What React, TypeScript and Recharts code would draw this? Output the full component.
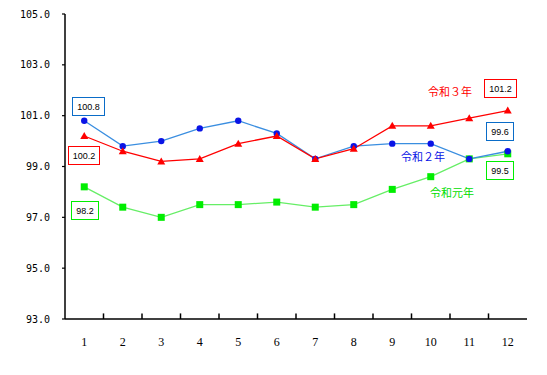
import React from 'react';
import {
  LineChart, Line, XAxis, YAxis, ReferenceLine,
} from 'recharts';

const months = [1, 2, 3, 4, 5, 6, 7, 8, 9, 10, 11, 12];
const reiwa3 = [100.2, 99.6, 99.2, 99.3, 99.9, 100.2, 99.3, 99.7, 100.6, 100.6, 100.9, 101.2];
const reiwa2 = [100.8, 99.8, 100.0, 100.5, 100.8, 100.3, 99.3, 99.8, 99.9, 99.9, 99.3, 99.6];
const reiwa1 = [98.2, 97.4, 97.0, 97.5, 97.5, 97.6, 97.4, 97.5, 98.1, 98.6, 99.3, 99.5];
const yTicks = [93, 95, 97, 99, 101, 103, 105];
const seriesNames = ['令和３年', '令和２年', '令和元年'];

const COLORS = {
  RED: '#ff0000',
  BLUE_LINE: '#3a8ee0',
  BLUE_DOT: '#0a14e6',
  BLUE_BOX: '#0a6cc8',
  GREEN_LINE: '#66ee66',
  GREEN_DOT: '#00ee00',
  GREEN_TEXT: '#00dd00',
};

const data = months.map((m, i) => ({ m, r3: reiwa3[i], r2: reiwa2[i], r1: reiwa1[i] }));
// 月の間の目盛り（内向き）
const betweenTicks = months.slice(1).map((m) => m - 0.5);
const Y_MIN = yTicks[0];
const Y_MAX = yTicks[yTicks.length - 1];
const TICK_LEN = 0.22; // 軸単位で約5〜6px

const Triangle = (props: any) => {
  const { cx, cy } = props;
  if (cx == null || cy == null) return null;
  return <path d={`M${cx},${cy - 4}L${cx + 4},${cy + 3}L${cx - 4},${cy + 3}Z`} fill={COLORS.RED} />;
};
const Square = (props: any) => {
  const { cx, cy } = props;
  if (cx == null || cy == null) return null;
  return <rect x={cx - 3.5} y={cy - 3.5} width={7} height={7} fill={COLORS.GREEN_DOT} />;
};
const Circle = (props: any) => {
  const { cx, cy } = props;
  if (cx == null || cy == null) return null;
  return <circle cx={cx} cy={cy} r={3.2} fill={COLORS.BLUE_DOT} />;
};

// 値ラベル（枠付き）
const ValueBox = ({ left, top, w, color, value }: { left: number; top: number; w: number; color: string; value: number }) => (
  <div style={{
    position: 'absolute', left, top, width: w, height: 19, border: `1px solid ${color}`,
    boxSizing: 'border-box', background: '#fff', fontFamily: '"Liberation Sans", Arial, sans-serif',
    fontSize: 9, color: '#000', display: 'flex', alignItems: 'center', justifyContent: 'center',
  }}>{value.toFixed(1)}</div>
);

const SeriesLabel = ({ left, top, color, text }: { left: number; top: number; color: string; text: string }) => (
  <div style={{
    position: 'absolute', left, top, fontFamily: '"Noto Sans CJK JP", sans-serif', fontSize: 11,
    color, lineHeight: '12px', whiteSpace: 'nowrap',
  }}>{text}</div>
);

export default function App() {
  return (
    <div style={{ position: 'absolute', left: 0, top: 0, width: 547, height: 375, background: '#fff' }}>
      <LineChart width={547} height={375} data={data} margin={{ top: 14, right: 20, left: 0, bottom: 0 }}>
        <XAxis
          dataKey="m"
          type="number"
          domain={[0.5, 12.5]}
          ticks={months}
          interval={0}
          allowDataOverflow
          height={56}
          tickLine={false}
          tickSize={0}
          tickMargin={18}
          axisLine={{ stroke: '#000', strokeWidth: 1.5 }}
          tick={{ fontSize: 12, fill: '#000', fontFamily: '"Liberation Serif", serif' }}
        />
        {/* 枠の上辺・右辺 */}
        <XAxis
          xAxisId="top"
          orientation="top"
          dataKey="m"
          type="number"
          domain={[0.5, 12.5]}
          allowDataOverflow
          height={0}
          tick={false}
          tickLine={false}
          axisLine={{ stroke: '#000', strokeWidth: 1.5 }}
        />
        <YAxis
          domain={[Y_MIN, Y_MAX]}
          ticks={yTicks}
          width={65}
          allowDataOverflow
          tickSize={3}
          tickMargin={12}
          tickLine={{ stroke: '#000', strokeWidth: 1.2 }}
          axisLine={{ stroke: '#000', strokeWidth: 1.5 }}
          tickFormatter={(v: number) => v.toFixed(1)}
          tick={{ fontSize: 10, fill: '#000', fontFamily: '"DejaVu Sans Mono", monospace' }}
        />
        <YAxis
          yAxisId="right"
          orientation="right"
          domain={[Y_MIN, Y_MAX]}
          allowDataOverflow
          width={0}
          tick={false}
          tickLine={false}
          axisLine={{ stroke: '#000', strokeWidth: 1.5 }}
        />
        {betweenTicks.map((t) => (
          <ReferenceLine
            key={t}
            segment={[{ x: t, y: Y_MIN }, { x: t, y: Y_MIN + TICK_LEN }]}
            stroke="#000"
            strokeWidth={1.5}
            ifOverflow="visible"
          />
        ))}
        <Line dataKey="r1" stroke={COLORS.GREEN_LINE} strokeWidth={1.3} dot={<Square />} activeDot={false} isAnimationActive={false} />
        <Line dataKey="r2" stroke={COLORS.BLUE_LINE} strokeWidth={1.3} dot={<Circle />} activeDot={false} isAnimationActive={false} />
        <Line dataKey="r3" stroke={COLORS.RED} strokeWidth={1.3} dot={<Triangle />} activeDot={false} isAnimationActive={false} />
      </LineChart>

      <ValueBox left={72} top={97} w={33} color={COLORS.BLUE_BOX} value={reiwa2[0]} />
      <ValueBox left={68} top={146} w={32} color={COLORS.RED} value={reiwa3[0]} />
      <ValueBox left={71} top={201} w={28} color={COLORS.GREEN_DOT} value={reiwa1[0]} />
      <ValueBox left={484} top={79} w={33} color={COLORS.RED} value={reiwa3[11]} />
      <ValueBox left={486} top={122} w={28} color={COLORS.BLUE_BOX} value={reiwa2[11]} />
      <ValueBox left={486} top={161} w={28} color={COLORS.GREEN_DOT} value={reiwa1[11]} />

      <SeriesLabel left={428} top={85} color={COLORS.RED} text={seriesNames[0]} />
      <SeriesLabel left={401} top={150} color={COLORS.BLUE_DOT} text={seriesNames[1]} />
      <SeriesLabel left={430} top={186} color={COLORS.GREEN_TEXT} text={seriesNames[2]} />
    </div>
  );
}
